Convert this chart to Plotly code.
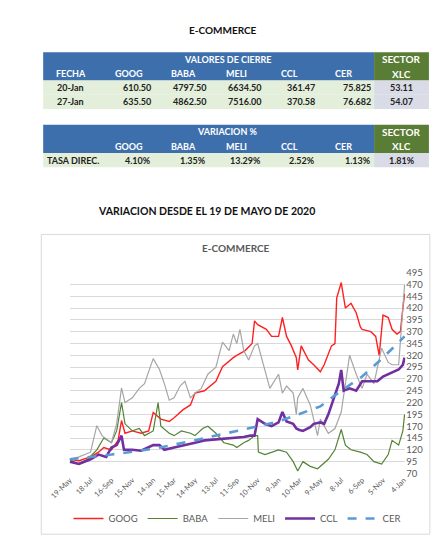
import plotly.graph_objects as go

W, H = 440, 540
def px(x): return x / W
def py(y): return 1 - y / H

# ---------- table data ----------
t1_cols = ["FECHA", "GOOG", "BABA", "MELI", "CCL", "CER", "XLC"]
t1_rows = [["20-Jan", "610.50", "4797.50", "6634.50", "361.47", "75.825", "53.11"],
           ["27-Jan", "635.50", "4862.50", "7516.00", "370.58", "76.682", "54.07"]]
t2_cols = ["", "GOOG", "BABA", "MELI", "CCL", "CER", "XLC"]
t2_rows = [["TASA DIREC.", "4.10%", "1.35%", "13.29%", "2.52%", "1.13%", "1.81%"]]

# ---------- chart data ----------
goog_d = ["2020-05-19","2020-06-15","2020-07-18","2020-08-10","2020-08-25","2020-09-16","2020-10-05","2020-10-15","2020-10-25","2020-11-15","2020-12-10","2021-01-01","2021-01-14","2021-02-05","2021-03-01","2021-03-15","2021-04-10","2021-05-01","2021-05-14","2021-06-10","2021-07-13","2021-08-01","2021-09-01","2021-09-11","2021-10-05","2021-10-25","2021-11-01","2021-11-10","2021-12-05","2021-12-20","2022-01-09","2022-01-20","2022-02-01","2022-02-15","2022-03-01","2022-03-05","2022-03-15","2022-04-05","2022-04-20","2022-05-09","2022-05-20","2022-06-10","2022-06-20","2022-06-25","2022-07-08","2022-07-20","2022-08-05","2022-08-20","2022-09-01","2022-09-06","2022-10-01","2022-10-15","2022-10-25","2022-11-05","2022-11-20","2022-12-01","2022-12-15","2022-12-25","2023-01-01","2023-01-06"]
goog_v = [100,97,105,115,125,120,140,182,155,160,155,160,199,185,180,188,205,215,240,245,265,296,315,320,330,345,393,385,375,360,360,400,360,340,315,289,340,310,300,285,300,340,345,441,474,420,430,410,380,375,370,360,320,405,400,375,365,370,420,450]

baba_d = ["2020-05-19","2020-06-10","2020-07-10","2020-08-05","2020-08-25","2020-09-16","2020-10-01","2020-10-15","2020-10-25","2020-11-15","2020-12-05","2020-12-20","2021-01-14","2021-01-28","2021-02-05","2021-03-01","2021-03-15","2021-04-05","2021-05-01","2021-05-14","2021-06-05","2021-06-20","2021-07-13","2021-08-05","2021-09-01","2021-09-11","2021-10-01","2021-10-15","2021-11-01","2021-11-10","2021-11-12","2021-12-01","2022-01-09","2022-02-01","2022-02-20","2022-03-05","2022-03-20","2022-04-10","2022-05-01","2022-05-09","2022-06-01","2022-06-20","2022-07-08","2022-07-20","2022-08-05","2022-09-01","2022-09-20","2022-10-10","2022-11-01","2022-11-20","2022-12-01","2022-12-20","2023-01-01","2023-01-06"]
baba_v = [100,90,100,120,145,135,160,220,175,160,165,150,160,220,170,155,150,160,155,150,165,170,155,135,130,125,135,140,150,150,115,110,120,115,95,75,95,85,80,85,100,120,163,130,120,115,110,95,90,110,140,130,160,195]

meli_d = ["2020-05-19","2020-06-15","2020-07-18","2020-08-05","2020-08-20","2020-09-16","2020-10-01","2020-10-15","2020-10-25","2020-11-15","2020-12-05","2020-12-20","2021-01-14","2021-02-01","2021-02-15","2021-03-01","2021-03-15","2021-04-01","2021-04-15","2021-05-01","2021-05-14","2021-06-01","2021-06-20","2021-07-13","2021-08-01","2021-08-20","2021-09-01","2021-09-11","2021-09-20","2021-10-01","2021-10-15","2021-11-01","2021-11-10","2021-12-01","2021-12-15","2022-01-09","2022-01-20","2022-02-01","2022-02-20","2022-03-01","2022-03-05","2022-03-20","2022-04-10","2022-05-01","2022-05-09","2022-06-01","2022-06-20","2022-07-08","2022-07-20","2022-08-01","2022-08-20","2022-09-06","2022-09-20","2022-10-10","2022-11-01","2022-11-20","2022-12-01","2022-12-20","2023-01-01","2023-01-06"]
meli_v = [100,105,115,171,150,135,175,251,220,230,250,260,313,290,260,225,230,255,265,230,240,250,280,295,348,330,365,345,375,330,310,340,345,290,250,280,240,255,240,195,230,250,215,150,185,155,165,200,260,320,280,250,280,260,335,305,300,300,420,470]

ccl_d = ["2020-05-19","2020-06-15","2020-07-18","2020-08-10","2020-09-01","2020-09-16","2020-10-01","2020-10-15","2020-10-22","2020-11-15","2020-12-10","2021-01-14","2021-02-01","2021-02-15","2021-03-15","2021-04-10","2021-05-14","2021-06-10","2021-07-13","2021-08-10","2021-09-11","2021-10-01","2021-10-20","2021-11-01","2021-11-10","2021-12-01","2021-12-20","2022-01-09","2022-01-20","2022-02-01","2022-02-20","2022-03-01","2022-03-10","2022-03-20","2022-04-10","2022-04-20","2022-05-09","2022-05-20","2022-06-01","2022-06-15","2022-07-01","2022-07-08","2022-07-15","2022-08-01","2022-08-20","2022-09-06","2022-10-01","2022-10-20","2022-11-05","2022-11-20","2022-12-01","2022-12-20","2023-01-01","2023-01-06"]
ccl_v = [95,90,100,110,105,125,130,150,120,120,118,130,130,120,125,130,135,140,142,143,145,147,150,150,185,175,170,178,200,180,175,165,162,160,168,175,178,175,195,225,260,289,245,250,245,265,265,265,275,280,285,290,300,315]

cer_d = ["2020-05-19","2020-09-16","2021-01-14","2021-05-14","2021-09-11","2022-01-09","2022-05-09","2022-07-08","2022-09-06","2022-11-05","2023-01-06"]
cer_v = [100,110,122,140,160,180,212,245,275,315,360]

y_ticks = list(range(70, 496, 25))

fig = go.Figure()
series = [("GOOG", goog_d, goog_v, "#ff2020", 1.4, "solid"),
          ("BABA", baba_d, baba_v, "#548235", 1.2, "solid"),
          ("MELI", meli_d, meli_v, "#a6a6a6", 1.2, "solid"),
          ("CCL", ccl_d, ccl_v, "#7030a0", 2.6, "solid"),
          ("CER", cer_d, cer_v, "#5b9bd5", 2.6, "dash")]
for n, d, v, c, w, dash in series:
    fig.add_trace(go.Scatter(x=d, y=v, name=n, mode="lines",
                             line=dict(color=c, width=w, dash=dash)))

shapes, ann = [], []
shapes.append(dict(type="rect", xref="paper", yref="paper", x0=px(13), x1=px(424),
                   y0=py(531), y1=py(225), line=dict(color="#d9d9d9", width=1)))

font = "Lato"
colx = [15, 73, 132, 190, 248, 306, 365, 423]
BLUE, GREEN, LG, GR = "#3e6fad", "#5a7d36", "#e3efda", "#d9dbe6"

def rect(x0, x1, y0, y1, color):
    shapes.append(dict(type="rect", xref="paper", yref="paper", x0=px(x0), x1=px(x1),
                       y0=py(y1), y1=py(y0), fillcolor=color, line=dict(width=0), layer="below"))

def text(x, y, s, color, anchor="center", size=9):
    ann.append(dict(x=px(x), y=py(y), xref="paper", yref="paper", text="<b>%s</b>" % s,
                    showarrow=False, xanchor=anchor, yanchor="middle",
                    font=dict(family=font, size=size, color=color)))

def table(top, title, cols, rows):
    rh = 14.5
    rect(colx[0], colx[6], top, top + 2 * rh, BLUE)
    rect(colx[6], colx[7], top, top + 2 * rh, GREEN)
    text((colx[0] + colx[6]) / 2 + 20, top + rh / 2, title, "white")
    text((colx[6] + colx[7]) / 2, top + rh / 2, "SECTOR", "white", size=10)
    for i, c in enumerate(cols):
        if i == 0:
            text((colx[0] + colx[1]) / 2, top + 1.5 * rh, c, "white")
        elif i == 6:
            text((colx[6] + colx[7]) / 2, top + 1.5 * rh, c, "white", size=10)
        else:
            text(colx[i] + 16, top + 1.5 * rh, c, "white", anchor="left")
    for r, row in enumerate(rows):
        y0 = top + (2 + r) * rh
        rect(colx[0], colx[6], y0, y0 + rh, LG)
        rect(colx[6], colx[7], y0, y0 + rh, GR)
        for i, s in enumerate(row):
            if i == 0:
                if len(s) > 8:
                    text(colx[0] + 2, y0 + rh / 2, s, "#222", anchor="left")
                else:
                    text((colx[0] + colx[1]) / 2, y0 + rh / 2, s, "#222")
            elif i == 6:
                text((colx[6] + colx[7]) / 2, y0 + rh / 2, s, "#222")
            else:
                text(colx[i + 1] - 1, y0 + rh / 2, s, "#222", anchor="right")

table(39, "VALORES DE CIERRE", t1_cols, t1_rows)
table(113, "VARIACION %", t2_cols, t2_rows)

text(205, 16, "E-COMMERCE", "#111", size=10)
text(188, 201, "VARIACION DESDE EL 19 DE MAYO DE 2020", "#111", size=10.5)
text(219, 239, "E-COMMERCE", "#595959", size=10)

fig.update_layout(
    width=W, height=H, margin=dict(l=0, r=0, t=0, b=0),
    paper_bgcolor="white", plot_bgcolor="white",
    shapes=shapes, annotations=ann,
    font=dict(family=font, color="#595959", size=8),
    showlegend=True,
    legend=dict(orientation="h", x=0.5, xanchor="center", y=py(515), yanchor="middle",
                font=dict(size=9.5, color="#595959", family=font), itemwidth=30),
    xaxis=dict(domain=[px(43), px(398)], type="date",
               range=["2020-05-19", "2023-01-08"],
               tick0="2020-05-19", dtick=60 * 86400000, tickformat="%-d-%b",
               tickangle=-45, showgrid=False, showline=False, ticks="",
               tickfont=dict(size=7.5, color="#595959")),
    yaxis=dict(domain=[py(469), py(264)], side="right", range=[70, 495],
               tickvals=y_ticks, showgrid=True, gridcolor="#d9d9d9", gridwidth=1,
               zeroline=False, tickfont=dict(size=9.5, color="#595959")),
)
fig.write_html("out.html")
